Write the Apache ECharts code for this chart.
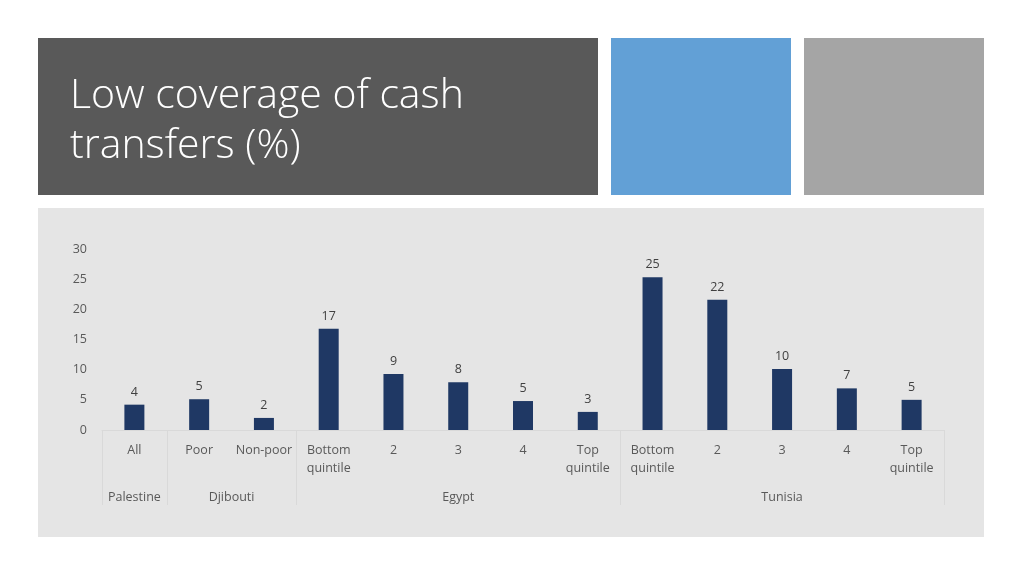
<!DOCTYPE html>
<html>
<head>
<meta charset="utf-8">
<script src="https://cdn.jsdelivr.net/npm/echarts@6/dist/echarts.min.js"></script>
<style>
  html, body { margin: 0; padding: 0; background: #fff; }
  #main { width: 1024px; height: 576px; }
</style>
</head>
<body>
<div id="main"></div>
<script>
// data
var categories = ['All', 'Poor', 'Non-poor', 'Bottom\nquintile', '2', '3', '4', 'Top\nquintile',
                  'Bottom\nquintile', '2', '3', '4', 'Top\nquintile'];
var coverage = [4.2, 5.1, 2.0, 16.8, 9.3, 7.9, 4.8, 3.0, 25.3, 21.6, 10.1, 6.9, 5.0];
var groups = ['Palestine', 'Djibouti', 'Egypt', 'Tunisia'];
var groupSizes = [1, 2, 5, 5];
var yTicks = [0, 5, 10, 15, 20, 25, 30];

// second axis: 2 slots per category, group name at the middle of its span
var groupSlots = [];
var groupEdges = [0];
for (var i = 0; i <= categories.length * 2; i++) groupSlots.push('');
var start = 0;
groups.forEach(function (g, k) {
  var end = start + groupSizes[k] * 2;
  groupSlots[(start + end) / 2] = g;
  groupEdges.push(end);
  start = end;
});

var chart = echarts.init(document.getElementById('main'));
var font = '"Open Sans", "Liberation Sans", sans-serif';

var option = {
  backgroundColor: '#ffffff',
  graphic: [
    { type: 'rect', left: 38, top: 38, z: -10, shape: { width: 560, height: 157 }, style: { fill: '#595959' } },
    { type: 'rect', left: 611, top: 38, z: -10, shape: { width: 180, height: 157 }, style: { fill: '#62a0d6' } },
    { type: 'rect', left: 804, top: 38, z: -10, shape: { width: 180, height: 157 }, style: { fill: '#a5a5a5' } },
    { type: 'rect', left: 38, top: 208, z: -10, shape: { width: 946, height: 329 }, style: { fill: '#e5e5e5' } }
  ],
  title: {
    text: 'Low coverage of cash\ntransfers (%)',
    left: 70,
    top: 71,
    padding: 0,
    textStyle: { color: '#ffffff', fontFamily: font, fontWeight: 300, fontSize: 41, lineHeight: 50 }
  },
  grid: { left: 102, right: 80, top: 249, bottom: 146 },
  xAxis: [
    {
      type: 'category',
      data: categories,
      axisLine: { lineStyle: { color: '#d9d9d9' } },
      axisTick: { show: false },
      axisLabel: { interval: 0, margin: 11, color: '#595959', fontFamily: font, fontSize: 12.5, lineHeight: 18 }
    },
    {
      type: 'category',
      position: 'bottom',
      boundaryGap: false,
      data: groupSlots,
      axisLine: { show: false },
      axisTick: {
        show: true,
        length: 75,
        lineStyle: { color: '#d9d9d9' },
        interval: function (idx) { return groupEdges.indexOf(idx) >= 0; }
      },
      axisLabel: { interval: 0, margin: 61, color: '#595959', fontFamily: font, fontSize: 12.5 }
    }
  ],
  yAxis: {
    type: 'value',
    min: yTicks[0],
    max: yTicks[yTicks.length - 1],
    interval: 5,
    splitLine: { show: false },
    axisLine: { show: false },
    axisTick: { show: false },
    axisLabel: { margin: 15, color: '#595959', fontFamily: font, fontSize: 12.5 }
  },
  series: [{
    type: 'bar',
    data: coverage,
    barWidth: 20,
    itemStyle: { color: '#1f3864' },
    label: {
      show: true,
      position: 'top',
      distance: 6,
      color: '#404040',
      fontFamily: font,
      fontSize: 12.5,
      formatter: function (p) { return Math.round(p.value); }
    }
  }]
};

chart.setOption(option);
</script>
</body>
</html>
